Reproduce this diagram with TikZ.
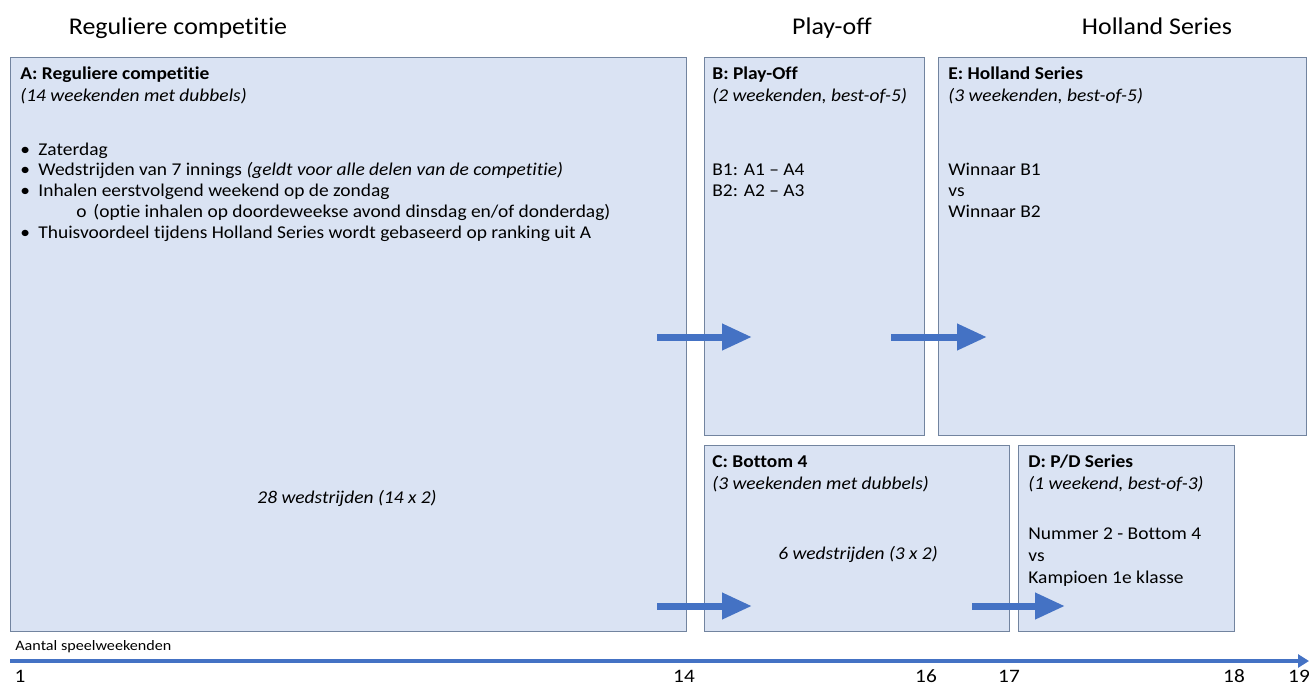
\documentclass[tikz,border=0pt]{standalone}
\usepackage{fontspec}
\setmainfont[FakeStretch=1.08, Ligatures=NoCommon]{Carlito}
\newfontfamily\axisfont[FakeStretch=1.12, Ligatures=NoCommon]{Carlito}
\usetikzlibrary{arrows.meta}
\definecolor{boxfill}{HTML}{DAE3F3}
\definecolor{boxline}{HTML}{72849F}
\definecolor{flow}{HTML}{4472C4}
\tikzset{
  phase/.style={draw=boxline, fill=boxfill, line width=0.6pt, anchor=north west, inner sep=0pt},
  txt/.style={anchor=base west, inner sep=0pt, font=\fontsize{9}{11}\selectfont},
  head/.style={anchor=base, inner sep=0pt, font=\fontsize{12}{14}\selectfont},
  tick/.style={anchor=base, inner sep=0pt, font=\axisfont\fontsize{9.5}{10}\selectfont},
  flowarrow/.style={draw=flow, line width=3.5pt, -{Triangle[length=15pt,width=12.5pt]}},
}
\begin{document}
\begin{tikzpicture}[x=0.5pt,y=-0.5pt]
    \useasboundingbox (0,0) rectangle (1309,686);
    % kopjes
    \node[head] (hA) at (178,34) {Reguliere competitie};
    \node[head] (hB) at (832,34) {Play-off};
    \node[head] (hE) at (1157,34) {Holland Series};
    % vakken
    \node[phase, minimum width=338pt, minimum height=287pt] (A) at (10,57) {};
    \node[phase, minimum width=110pt, minimum height=189pt] (B) at (704,57) {};
    \node[phase, minimum width=184pt, minimum height=189pt] (E) at (938,57) {};
    \node[phase, minimum width=152.5pt, minimum height=93pt] (C) at (704,445) {};
    \node[phase, minimum width=108pt, minimum height=93pt] (D) at (1018,445) {};
    % A
    \node[txt] (At) at (20,79) {\textbf{A: Reguliere competitie}};
    \node[txt] (As) at (20,101) {\textit{(14 weekenden met dubbels)}};
    \foreach \y/\t [count=\i] in {155/Zaterdag,
        175/{Wedstrijden van 7 innings \textit{(geldt voor alle delen van de competitie)}},
        196/{Inhalen eerstvolgend weekend op de zondag},
        238/{Thuisvoordeel tijdens Holland Series wordt gebaseerd op ranking uit A}}
        {
            \node[txt] (Ab\i) at (20,\y) {\textbullet};
            \node[txt] (Al\i) at (38,\y) {\t};
        }
    \node[txt] (Ao) at (76,217) {o};
    \node[txt] (Aol) at (93,217) {(optie inhalen op doordeweekse avond dinsdag en/of donderdag)};
    \node[txt, anchor=base] (Aw) at (347,503) {\textit{28 wedstrijden (14 x 2)}};
    % B
    \node[txt] (Bt) at (712,79) {\textbf{B: Play-Off}};
    \node[txt] (Bs) at (712,101) {\textit{(2 weekenden, best-of-5)}};
    \node[txt] (B1) at (712,175) {B1: A1 -- A4};
    \node[txt] (B2) at (712,196) {B2: A2 -- A3};
    % E
    \node[txt] (Et) at (948,79) {\textbf{E: Holland Series}};
    \node[txt] (Es) at (948,101) {\textit{(3 weekenden, best-of-5)}};
    \node[txt] (E1) at (948,175) {Winnaar B1};
    \node[txt] (E2) at (948,196) {vs};
    \node[txt] (E3) at (948,217) {Winnaar B2};
    % C
    \node[txt] (Ct) at (712,467) {\textbf{C: Bottom 4}};
    \node[txt] (Cs) at (712,489) {\textit{(3 weekenden met dubbels)}};
    \node[txt, anchor=base] (Cw) at (858,559) {\textit{6 wedstrijden (3 x 2)}};
    % D
    \node[txt] (Dt) at (1028,467) {\textbf{D: P/D Series}};
    \node[txt] (Ds) at (1028,489) {\textit{(1 weekend, best-of-3)}};
    \node[txt] (D1) at (1028,539) {Nummer 2 - Bottom 4};
    \node[txt] (D2) at (1028,561) {vs};
    \node[txt] (D3) at (1028,583) {Kampioen 1e klasse};
    % pijlen
    \coordinate (ab0) at (657,337);  \coordinate (ab1) at (752,337);
    \coordinate (be0) at (891,337);  \coordinate (be1) at (987,337);
    \coordinate (ac0) at (657,606);  \coordinate (ac1) at (752,606);
    \coordinate (cd0) at (972,606);  \coordinate (cd1) at (1065,606);
    \foreach \p in {ab,be,ac,cd}
        \draw[flowarrow] (\p0) -- (\p1);
    % tijdlijn
    \coordinate (t0) at (10,661);
    \coordinate (t1) at (1309,661);
    \draw[flow, line width=2pt, -{Triangle[length=5.5pt,width=6.5pt]}] (t0) -- (t1);
    \node[anchor=base west, inner sep=0pt, font=\axisfont\fontsize{7.2}{8}\selectfont] (tl) at (15,650) {Aantal speelweekenden};
    \foreach \x/\n in {20/1,684/14,926/16,1009/17,1234/18,1299/19}
        \node[tick] (w\n) at (\x,682) {\n};
\end{tikzpicture}
\end{document}
